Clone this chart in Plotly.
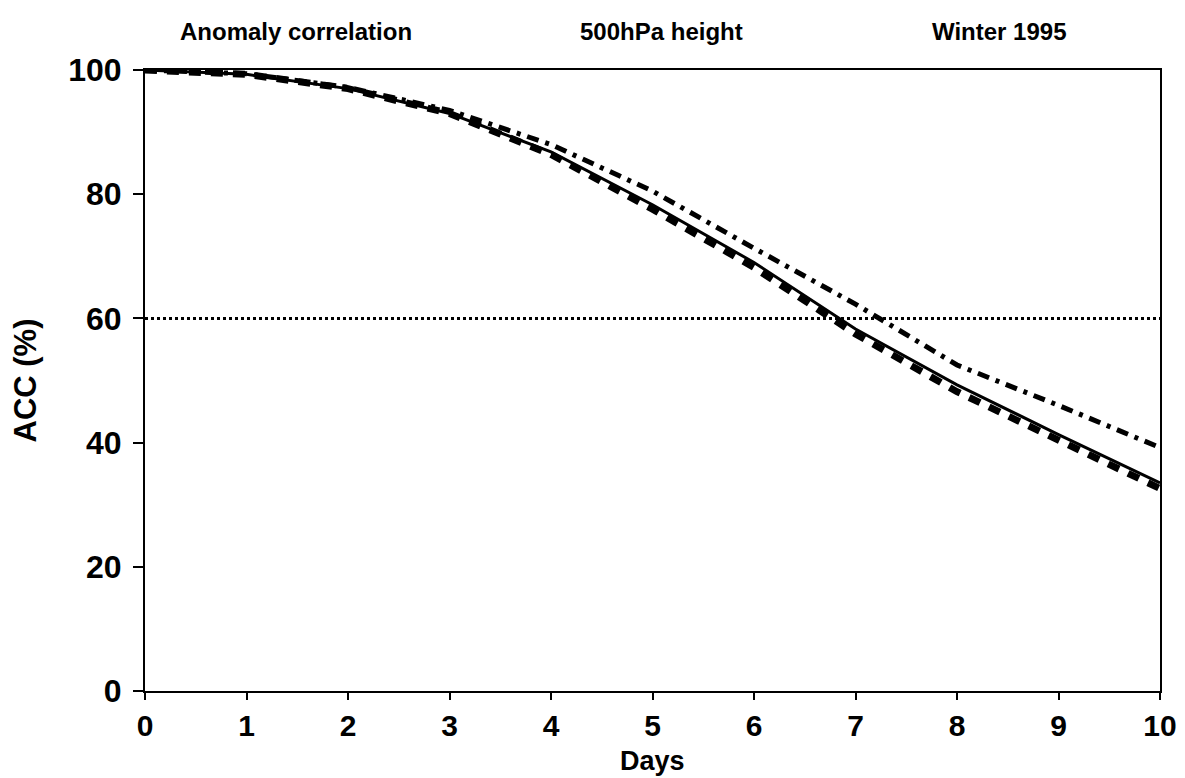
import plotly.graph_objects as go

days = [0, 1, 2, 3, 4, 5, 6, 7, 8, 9, 10]
solid = [100, 99.3, 97.0, 93.0, 86.8, 78.3, 69.0, 58.3, 49.3, 41.3, 33.5]
dashed = [100, 99.3, 97.0, 93.0, 86.4, 77.6, 68.2, 57.5, 48.2, 40.3, 32.6]
dashdot = [100, 99.4, 97.2, 93.5, 88.0, 80.5, 71.3, 62.3, 52.5, 46.0, 39.2]
ref_x = [0, 10]
ref_y = [60, 60]
xticks = list(range(0, 11))
yticks = [0, 20, 40, 60, 80, 100]

fig = go.Figure()
fig.add_trace(go.Scatter(x=ref_x, y=ref_y, mode="lines",
                         line=dict(color="black", width=3, dash="3px,3px"), showlegend=False))
fig.add_trace(go.Scatter(x=days, y=dashed, mode="lines",
                         line=dict(color="black", width=7, dash="12px,10px"), showlegend=False))
fig.add_trace(go.Scatter(x=days, y=dashdot, mode="lines",
                         line=dict(color="black", width=5, dash="12px,7px,4px,7px"), showlegend=False))
fig.add_trace(go.Scatter(x=days, y=solid, mode="lines",
                         line=dict(color="black", width=3), showlegend=False))

font_family = "Liberation Sans, Arial, sans-serif"
plot_h = 778 - 70 - 87
plot_w = 1185 - 145 - 25
fig.update_layout(
    width=1185, height=778,
    margin=dict(l=145, r=25, t=70, b=87),
    paper_bgcolor="white", plot_bgcolor="white",
    font=dict(family=font_family, color="black"),
    xaxis=dict(range=[0, 10], tickvals=xticks, ticktext=[str(t) for t in xticks],
               showgrid=False, zeroline=False, showline=True, linecolor="black", linewidth=2,
               mirror=True, ticks="outside", ticklen=7, tickwidth=2, tickcolor="black",
               automargin=False,
               tickfont=dict(size=30, family=font_family, weight="bold")),
    yaxis=dict(range=[0, 100], tickvals=yticks, ticktext=[str(t) for t in yticks],
               showgrid=False, zeroline=False, showline=True, linecolor="black", linewidth=2,
               mirror=True, ticks="outside", ticklen=10, tickwidth=2, tickcolor="black",
               automargin=False, ticklabelstandoff=5,
               tickfont=dict(size=32, family=font_family, weight="bold"),
               title=dict(text="<b>ACC (%)</b>", font=dict(size=31), standoff=22)),
)

fig.add_annotation(text="<b>Days</b>", xref="paper", yref="paper",
                   x=0.5, y=-(761 - 691) / plot_h, xanchor="center", yanchor="middle",
                   showarrow=False, font=dict(size=27, family=font_family, color="black"))

titles = [("Anomaly correlation", 178), ("500hPa height", 578), ("Winter 1995", 930)]
for text, px in titles:
    fig.add_annotation(text="<b>" + text + "</b>", xref="paper", yref="paper",
                       x=(px - 145) / plot_w, y=1 + (70 - 32) / plot_h,
                       xanchor="left", yanchor="middle", showarrow=False,
                       font=dict(size=24, family=font_family, color="black"))

fig.write_html("out.html")
